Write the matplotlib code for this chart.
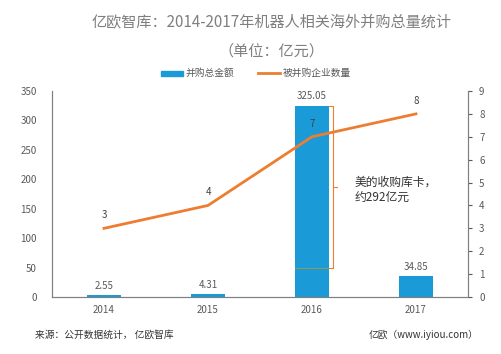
import matplotlib.pyplot as plt

plt.rcParams['font.family'] = ['Noto Sans CJK SC', 'DejaVu Sans']

years = ['2014', '2015', '2016', '2017']
amounts = [2.55, 4.31, 325.05, 34.85]
counts = [3, 4, 7, 8]
amount_labels = ['2.55', '4.31', '325.05', '34.85']

BLUE = '#1a9bd7'
ORANGE = '#ed7d31'
GRAY = '#595959'

fig = plt.figure(figsize=(5.02, 3.54), dpi=100)
ax = fig.add_axes([52 / 502, 57 / 354, 416 / 502, 206 / 354])
ax2 = ax.twinx()

x = list(range(len(years)))
ax.bar(x, amounts, width=0.32, color=BLUE, zorder=2)
for xi, v, lab in zip(x, amounts, amount_labels):
    ax.text(xi, v + 8, lab, ha='center', va='bottom', fontsize=7, color=GRAY)

ax.set_xlim(-0.5, 3.5)
ax.set_ylim(0, 350)
ax.set_yticks(range(0, 351, 50))
ax.set_xticks(x)
ax.set_xticklabels(years)

ax2.plot(x, counts, color=ORANGE, lw=2, zorder=3)
ax2.set_ylim(0, 9)
ax2.set_yticks(range(0, 10))
for xi, c in zip(x, counts):
    ax2.text(xi, c + 0.35, str(c), ha='center', va='bottom', fontsize=7,
             color='#404040')

# bracket for the Kuka deal
bx = 2.2
ax.plot([2.16, bx, bx, 2.16], [325, 325, 50, 50], color=ORANGE, lw=0.8, zorder=3)
ax.plot([bx, 2.24], [187, 187], color=ORANGE, lw=0.8, zorder=3)
ax.plot([1.84, 2.16], [50, 50], color='#8a9a5b', lw=0.8, zorder=3)
ax.text(2.41, 182, '美的收购库卡，\n约292亿元', fontsize=8.5, color='#333333',
        va='center', ha='left', linespacing=1.2)

for a in (ax, ax2):
    a.spines['top'].set_visible(False)
    for s in ('left', 'right', 'bottom'):
        a.spines[s].set_color('#808080')
    a.tick_params(colors=GRAY, labelsize=7)
ax.tick_params(axis='y', length=0, pad=11)
ax.tick_params(axis='x', length=0, pad=6)
ax2.tick_params(axis='y', length=3, pad=5)

fig.text(0.54, 0.938, '亿欧智库：2014-2017年机器人相关海外并购总量统计',
         ha='center', va='center', fontsize=10.9, color='#7f7f7f')
fig.text(0.54, 0.852, '（单位：亿元）', ha='center', va='center',
         fontsize=10.9, color='#7f7f7f')

# legend
fig.patches.append(plt.Rectangle((161 / 502, 1 - 76 / 354), 22 / 502, 5 / 354,
                                 transform=fig.transFigure, color=BLUE))
fig.text(186 / 502, 1 - 73 / 354, '并购总金额', fontsize=7, color=GRAY, va='center')
fig.lines.append(plt.Line2D([258 / 502, 280 / 502], [1 - 73 / 354, 1 - 73 / 354],
                            transform=fig.transFigure, color=ORANGE, lw=2))
fig.text(283 / 502, 1 - 73 / 354, '被并购企业数量', fontsize=7, color=GRAY, va='center')

fig.text(35 / 502, 1 - 335 / 354, '来源：公开数据统计， 亿欧智库', fontsize=7,
         color='#333333', va='center')
fig.text(479 / 502, 1 - 335 / 354, '亿欧（www.iyiou.com）', fontsize=7,
         color='#333333', va='center', ha='right')

fig.savefig('out.png', dpi=100)
